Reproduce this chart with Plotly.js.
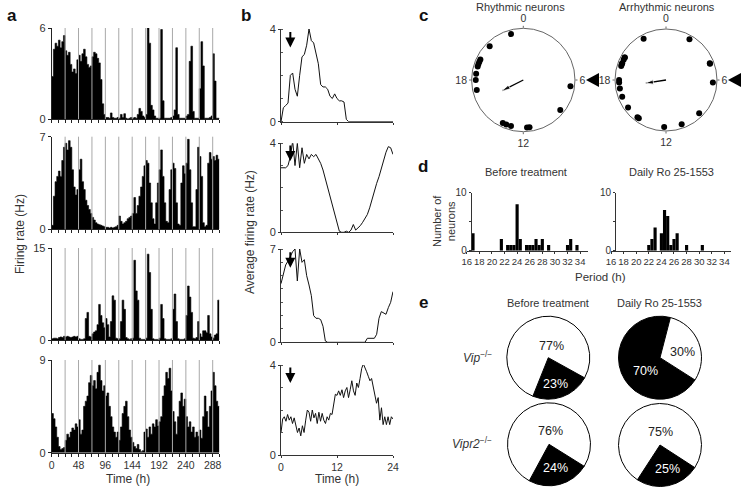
<!DOCTYPE html>
<html><head><meta charset="utf-8">
<script src="https://cdn.plot.ly/plotly-3.0.1.min.js"></script>
<style>html,body{margin:0;padding:0;background:#fff}#chart{width:748px;height:491px}</style>
</head><body><div id="chart"></div>
<script>
const W = 748, H = 491;
const px = x => x / W, py = y => 1 - y / H;

// ---------- panel a: firing rate in 3-h bins (0..300 h) ----------
const aBinHours = 3;
const a1Rate = [2.8,4.6,5.0,4.8,5.2,4.7,5.1,5.5,4.5,4.2,
 4.4,3.6,3.1,3.3,3.0,3.9,4.2,3.8,4.3,4.6,
 4.1,3.6,3.4,3.5,4.1,4.4,4.3,4.0,3.7,2.6,
 1.0,0.3,0.1,0.1,0.05,0.4,0.1,0.05,0.05,0.1,
 0.05,0.3,0.1,0.35,0.05,0,0.05,0.1,0.05,0.1,
 0.05,0.3,0.7,0.5,0.2,0.1,0.3,6.0,5.0,0.9,
 0.6,0.2,0.05,0.05,0.05,5.9,1.2,0.05,0.05,0.05,
 0.05,0.1,0.2,0.6,4.7,0.3,0.05,0.05,0.05,0.05,
 0.2,0.3,3.8,4.8,0.5,0.05,0.05,0.05,2.0,5.1,
 3.5,0.05,0.05,0.05,0.1,0.2,4.3,2.5,0.05,0.05];
const a2Rate = [0.3,2.5,3.6,4.0,4.4,4.0,5.2,6.2,6.5,6.0,
 6.7,6.2,4.5,3.2,2.6,3.0,4.5,5.3,3.6,3.0,
 2.2,1.8,1.5,1.2,0.9,0.7,0.5,0.4,0.35,0.3,
 0.25,0.2,0.15,0.15,0.1,0.15,0.1,0.15,0.2,0.3,
 1.0,0.6,0.4,0.5,0.6,0.8,0.9,1.0,1.2,2.4,
 1.2,1.8,2.5,3.2,4.0,4.8,5.2,5.0,3.5,2.0,
 0.8,0.4,2.0,3.5,4.5,6.0,4.0,2.0,0.6,0.5,
 3.0,4.5,5.0,4.6,2.0,0.4,0.3,3.5,4.8,4.2,
 5.0,6.8,4.5,2.0,0.2,0.2,3.0,6.2,5.5,4.0,
 0.5,0.2,0.3,5.0,5.8,5.3,5.5,5.2,5.6,5.3];
const a3Rate = [0.2,0.3,0.3,0.2,0.4,0.5,0.4,0.6,0.5,0.6,
 0.5,0.4,0.5,0.6,0.5,0.6,0.2,0.1,0.1,0.2,
 3.5,4.5,0.6,0.5,1.0,1.3,1.5,2.5,5.8,4.0,
 2.8,2.0,3.5,2.5,0.5,3.0,7.2,6.5,0.3,0.2,
 0.2,3.0,6.5,5.0,0.4,0.2,0.1,0.2,0.3,13.0,
 8.0,6.5,0.3,0.1,0.1,0.1,0.3,14.0,11.0,5.0,
 0.2,0.1,0.1,0.1,0.3,5.8,3.5,0.2,0.1,0.1,
 0.1,0.2,5.0,7.5,3.0,0.2,0.1,0.1,0.1,0.2,
 4.0,8.8,7.0,4.5,0.3,0.2,0.4,3.0,1.0,0.5,
 1.5,1.5,1.2,4.0,1.0,0.5,0.3,0.8,1.0,6.5];
const a4Rate = [3.8,3.3,2.5,1.5,0.6,0.3,0.4,0.5,1.2,1.8,
 1.5,2.0,2.4,2.2,2.8,2.5,3.2,1.8,2.2,4.5,
 5.0,5.5,6.8,7.5,6.5,7.0,6.2,7.8,8.5,7.0,
 6.0,6.5,5.5,5.8,4.5,3.5,2.5,2.0,1.5,2.0,
 1.2,2.5,3.8,4.5,5.0,3.5,2.2,1.5,1.0,0.6,
 0.4,0.8,0.3,0.1,0.2,2.0,2.3,1.5,2.5,1.8,
 2.8,2.5,3.2,2.6,3.0,3.5,5.5,6.5,7.8,7.2,
 8.2,6.0,4.0,3.0,1.8,3.5,5.0,5.8,4.5,5.2,
 3.5,2.5,3.0,2.0,2.5,1.5,2.0,1.6,2.2,1.4,
 3.5,5.5,4.0,2.5,4.5,6.0,7.8,6.5,5.0,4.5];
const aMax = [6, 7, 15, 9];
const drugTimes = [123, 147, 171, 195, 219, 243];
const dayLines = [24,48,72,96,120,144,168,192,216,240,264,288];
const aTickLabels = ['0','48','96','144','192','240','288'];

// ---------- panel b: average firing rate over 24 h ----------
const bStep = 0.5;
const b1Rate = [0,0.6,0.7,0.8,2.0,2.1,1.4,1.1,2.0,2.8,
 2.9,3.3,4.0,3.5,3.4,3.0,2.5,1.6,1.5,1.5,
 1.4,1.1,1.0,1.2,1.0,0.9,0.9,0.85,0.1,
 0,0,0,0,0,0,0,0,0,0,0,0,0,0,0,0,0,0,0,0];
const b2Rate = [2.9,2.9,2.9,3.0,3.4,4.1,3.0,4.0,2.9,3.8,
 3.1,3.5,3.3,3.5,3.4,3.5,3.3,3.1,2.8,2.4,
 2.0,1.6,1.2,0.8,0.4,0.05,0,0,0.05,0,
 0.1,0.35,0.1,0.2,0.3,0.45,0.6,0.8,1.1,1.5,
 1.9,2.2,2.5,2.9,3.3,3.6,3.85,3.8,3.5];
const b3Rate = [4.4,5.0,5.8,6.1,6.5,6.8,7.0,4.6,7.0,6.0,
 6.2,5.0,4.3,3.5,2.0,1.8,1.8,1.7,1.2,0.1,
 0,0,0,0,0,0,0,0,0,0,0,0,0,0,0,0,0,
 0.3,0.3,0.3,0.3,0.6,1.8,2.3,2.2,2.1,2.6,3.0,3.8];
// b4 sampled at 24/68 h
const b4Rate = [1.0,1.6,1.7,1.5,1.8,1.55,1.7,1.4,1.65,1.3,
 1.0,1.2,0.85,1.3,1.0,1.55,2.0,1.9,1.5,2.0,
 1.65,1.85,1.4,1.9,1.5,1.85,1.55,1.4,1.7,1.55,
 1.85,1.8,2.2,2.7,2.65,2.85,2.65,2.9,2.55,2.85,
 3.0,2.55,2.9,3.3,2.85,2.65,3.2,3.0,3.4,3.85,
 4.05,3.9,3.7,3.5,3.3,3.4,3.05,2.7,2.3,2.55,
 1.55,2.1,1.35,1.7,1.35,1.7,1.35,1.7,1.6];
const bSteps = [0.5, 0.5, 0.5, 24 / 68];
const bMax = [4, 4, 7, 4];
const bArrowTime = 2;
const bTickLabels = ['0','12','24'];

// ---------- panel c: phases (h) ----------
const rhythmicPhase = [23.0,21.0,19.7,19.5,19.3,19.1,18.5,18.0,17.2,6.5,8.6,13.7,13.4,13.0,11.7,11.5];
const arrhythmicPhase = [22.1,2.0,4.6,4.65,6.2,19.9,19.7,19.9,19.4,19.3,19.15,18.0,17.8,17.3,16.6,15.6,14.5,14.36,12.15,10.7,9.0];
const rhythmicMean = {phase: 16.2, length: 0.45};
const arrhythmicMean = {phase: 17.4, length: 0.4};
const lightsOnPhase = 6;
const phaseTickLabels = ['0','6','12','18'];

// ---------- panel d: period histograms ----------
const periodBefore = [17.0,21.5,22.5,23.0,23.5,24.0,24.5,25.5,26.0,26.5,27.0,27.5,28.0,29.0,32.0,32.5,33.5];
const countBefore  = [3,2,1,1,1,8,2,1,1,1,2,1,2,1,1,2,1];
const periodRo = [22.0,22.5,23.0,24.0,24.5,25.0,25.5,26.0,26.5,28.0,30.5];
const countRo  = [1,2,4,3,7,6,1,2,3,1,1];
const periodTickLabels = ['16','18','20','22','24','26','28','30','32','34'];

// ---------- panel e: percent rhythmic (black) / arrhythmic (white) ----------
const conditions = ['Before treatment','Daily Ro 25-1553'];
const genotypeNames = ['Vip','Vipr2'];
const blackPct = [[23, 70], [24, 25]];
const whitePct = [[77, 30], [76, 75]];

// ================= build =================
const FONT = 'Liberation Sans, Arial, Helvetica, sans-serif';
const TXT = '#333';
const traces = [];
const layout = {
  width: W, height: H, margin: {l:0, r:0, t:0, b:0},
  paper_bgcolor: '#fff', plot_bgcolor: 'rgba(0,0,0,0)',
  showlegend: false, font: {family: FONT, color: TXT, size: 11},
  shapes: [], annotations: []
};
const axName = n => n === 1 ? '' : String(n);
const txt = (x, y, text, opts = {}) => layout.annotations.push(Object.assign({xref:'paper', yref:'paper',
  x:px(x), y:py(y), text, showarrow:false, xanchor:'center', yanchor:'middle', font:{size:11, color:TXT}}, opts));

// panel a
const aSeries = [a1Rate, a2Rate, a3Rate, a4Rate];
const aYpx = [[119,28],[229.3,136.7],[340,248],[452.7,360]];
aSeries.forEach((vals, k) => {
  const n = k + 1, s = axName(n);
  const xs = vals.map((v, i) => i * aBinHours); xs.push(vals.length * aBinHours);
  const ys = vals.slice(); ys.push(vals[vals.length - 1]);
  traces.push({type:'scatter', x: xs, y: ys, xaxis:'x'+s, yaxis:'y'+s, mode:'lines',
    line:{color:'#000', width:0.6, shape:'hv'}, fill:'tozeroy', fillcolor:'#000', hoverinfo:'skip'});
  traces.push({type:'scatter', x: drugTimes, y: drugTimes.map(() => aMax[k] * 1.08), xaxis:'x'+s, yaxis:'y'+s,
    mode:'markers', marker:{symbol:'triangle-down', size:6, color:'#000'}, cliponaxis:false, hoverinfo:'skip'});
  layout['xaxis'+s] = {domain:[px(51.7), px(219.4)], range:[0, 300], anchor:'y'+s,
    showline:true, linecolor:'#222', linewidth:1, ticks:'outside', ticklen:3, tickcolor:'#222',
    tickmode:'array', tickvals: aTickLabels.map(Number), ticktext: aTickLabels, tickangle:0,
    showticklabels: k === 3, showgrid:false, zeroline:false, tickfont:{size:10.5, color:TXT},
    minor:{tickmode:'linear', tick0:0, dtick:12, ticks:'outside', ticklen:3, tickcolor:'#222', showgrid:false}};
  layout['yaxis'+s] = {domain:[py(aYpx[k][0]), py(aYpx[k][1])], range:[0, aMax[k]], anchor:'x'+s,
    showline:true, linecolor:'#222', linewidth:1, ticks:'outside', ticklen:3, tickcolor:'#222',
    tickmode:'array', tickvals:[0, aMax[k]], showgrid:false, zeroline:false, tickfont:{size:11, color:TXT}};
  dayLines.forEach(t => layout.shapes.push({type:'line', xref:'x'+s, yref:'y'+s+' domain', x0:t, x1:t, y0:0, y1:1,
    line:{color:'#a8a8a8', width:1}, layer:'above'}));
});

// panel b
const bSeries = [b1Rate, b2Rate, b3Rate, b4Rate];
const bYpx = [[121.7,29],[232.3,143.3],[342.3,249],[455,365]];
bSeries.forEach((vals, k) => {
  const n = k + 5, s = axName(n);
  traces.push({type:'scatter', x: vals.map((v, i) => i * bSteps[k]), y: vals, xaxis:'x'+s, yaxis:'y'+s,
    mode:'lines', line:{color:'#111', width:1}, cliponaxis:false, hoverinfo:'skip'});
  layout['xaxis'+s] = {domain:[px(281), px(393)], range:[0, 24], anchor:'y'+s,
    showline:true, linecolor:'#333', linewidth:1, ticks:'outside', ticklen:2, tickcolor:'#333',
    tickmode:'array', tickvals: bTickLabels.map(Number), ticktext: bTickLabels, tickangle:0,
    showticklabels: k === 3, showgrid:false, zeroline:false, tickfont:{size:10.5, color:TXT}};
  layout['yaxis'+s] = {domain:[py(bYpx[k][0]), py(bYpx[k][1])], range:[0, bMax[k]], anchor:'x'+s,
    showline:true, linecolor:'#333', linewidth:1, ticks:'outside', ticklen:2, tickcolor:'#333',
    tickmode:'array', tickvals:[0, bMax[k]], showgrid:false, zeroline:false, tickfont:{size:11, color:TXT},
    minor:{tickmode:'linear', tick0:0, dtick:1, ticks:'inside', ticklen:2, tickcolor:'#555'}};
  layout.annotations.push({xref:'x'+s, yref:'y'+s, x:bArrowTime, y:bMax[k]*0.8, ax:0, ay:-17,
    showarrow:true, arrowhead:2, arrowsize:1, arrowwidth:2, arrowcolor:'#000', text:''});
});

// panel c
const polarDefs = [
  {sp:'polar', phases:rhythmicPhase, mean:rhythmicMean, x:[471.6, 575], y:[28.3, 131.7]},
  {sp:'polar2', phases:arrhythmicPhase, mean:arrhythmicMean, x:[615, 717], y:[28.3, 131.7]}
];
polarDefs.forEach(d => {
  layout[d.sp] = {
    domain:{x:[px(d.x[0]), px(d.x[1])], y:[py(d.y[1]), py(d.y[0])]}, bgcolor:'#fff',
    radialaxis:{visible:false, range:[0, 1]},
    angularaxis:{direction:'clockwise', rotation:90, showgrid:false, showline:true, linecolor:'#666', linewidth:1,
      ticks:'outside', ticklen:2, tickcolor:'#666', tickmode:'array',
      tickvals: phaseTickLabels.map(v => Number(v) * 15), ticktext: phaseTickLabels,
      tickfont:{size:10.5, color:TXT}}
  };
  traces.push({type:'scatterpolar', subplot:d.sp, r: d.phases.map(() => 0.92), theta: d.phases.map(h => h * 15),
    mode:'markers', marker:{size:6, color:'#000'}, hoverinfo:'skip'});
  const ang = d.mean.phase * 15;
  traces.push({type:'scatterpolar', subplot:d.sp, r:[0, d.mean.length], theta:[ang, ang], mode:'lines+markers',
    line:{color:'#000', width:1.3}, marker:{symbol:['circle','arrow'], size:[0, 8], angle:[0, ang], color:'#000'},
    hoverinfo:'skip'});
  // lights-on marker (black triangle beside the "6" label)
  const cx = (d.x[0] + d.x[1]) / 2, cy = (d.y[0] + d.y[1]) / 2, rr = (d.x[1] - d.x[0]) / 2;
  const a = lightsOnPhase / 24 * 2 * Math.PI;
  const tipX = cx + Math.sin(a) * (rr + 11), tipY = cy - Math.cos(a) * (rr + 11);
  layout.shapes.push({type:'path', xref:'paper', yref:'paper', fillcolor:'#000', line:{width:0},
    path:`M ${px(tipX)},${py(tipY)} L ${px(tipX + 13)},${py(tipY - 7)} L ${px(tipX + 13)},${py(tipY + 7)} Z`});
});

// panel d
const histAxes = [
  {n:9, periods:periodBefore, counts:countBefore, dom:[466.7, 587.7], range:[16, 35.2], yPos:470.7},
  {n:10, periods:periodRo, counts:countRo, dom:[611, 731], range:[16, 35.05], yPos:615}
];
histAxes.forEach(h => {
  const s = axName(h.n);
  traces.push({type:'bar', x:h.periods, y:h.counts, width:0.5, xaxis:'x'+s, yaxis:'y'+s,
    marker:{color:'#000', line:{width:0}}, hoverinfo:'skip'});
  layout['xaxis'+s] = {domain:[px(h.dom[0]), px(h.dom[1])], range:h.range, anchor:'y'+s,
    showline:true, linecolor:'#333', linewidth:1, ticks:'outside', ticklen:2, tickcolor:'#333',
    tickmode:'array', tickvals: periodTickLabels.map(Number), ticktext: periodTickLabels, tickangle:0,
    showgrid:false, zeroline:false, tickfont:{size:9.5, color:TXT}};
  layout['yaxis'+s] = {domain:[py(250.7), py(192.7)], range:[0, 10], anchor:'free', position:px(h.yPos),
    showline:true, linecolor:'#333', linewidth:1, ticks:'outside', ticklen:2, tickcolor:'#333',
    tickmode:'array', tickvals:[0, 5, 10], ticktext:['0', '', '10'],
    showgrid:false, zeroline:false, tickfont:{size:10, color:TXT}};
});

// panel e
const pieCenters = [[[548.3, 357.7], [660, 357.7]], [[549, 444.3], [660, 445]]];
const pieR = 41.5;
const pieRot = [[119, 122.5], [122, 123]];
const whiteLabelOff = [[[3, -12], [22, -6]], [[1, -13], [0, -13.5]]];
const blackLabelOff = [[[7, 26], [-15, 13]], [[6, 24], [7, 24]]];
for (let g = 0; g < 2; g++) for (let c = 0; c < 2; c++) {
  const [cx, cy] = pieCenters[g][c];
  traces.push({type:'pie', values:[blackPct[g][c], whitePct[g][c]], sort:false, direction:'clockwise',
    rotation: pieRot[g][c], textinfo:'none', hoverinfo:'skip',
    marker:{colors:['#000', '#fff'], line:{color:'#000', width:1}},
    domain:{x:[px(cx - pieR), px(cx + pieR)], y:[py(cy + pieR), py(cy - pieR)]}});
  txt(cx + whiteLabelOff[g][c][0], cy + whiteLabelOff[g][c][1], whitePct[g][c] + '%', {font:{size:12.5, color:'#222'}});
  txt(cx + blackLabelOff[g][c][0], cy + blackLabelOff[g][c][1], blackPct[g][c] + '%', {font:{size:12.5, color:'#fff'}});
}

// text annotations
[['a', 12, 15], ['b', 246, 15], ['c', 423, 15], ['d', 423, 167], ['e', 423, 302]].forEach(([l, x, y]) =>
  txt(x, y, '<b>' + l + '</b>', {font:{size:17, color:'#111'}}));
txt(20, 234, 'Firing rate (Hz)', {textangle:-90, font:{size:12, color:TXT}});
txt(250, 232, 'Average firing rate (Hz)', {textangle:-90, font:{size:12, color:TXT}});
txt(128, 479, 'Time (h)', {font:{size:12, color:TXT}});
txt(337, 479, 'Time (h)', {font:{size:12, color:TXT}});
txt(520, 7, 'Rhythmic neurons');
txt(667, 7, 'Arrhythmic neurons');
txt(526, 172, conditions[0]);
txt(671, 172, conditions[1]);
txt(444, 221, 'Number of<br>neurons', {textangle:-90});
txt(600, 277, 'Period (h)', {font:{size:11.5, color:TXT}});
txt(548, 303, conditions[0]);
txt(659, 303, conditions[1]);
txt(494, 357, '<i>' + genotypeNames[0] + '</i><sup>−/−</sup>', {xanchor:'right', font:{size:12, color:TXT}});
txt(494, 443, '<i>' + genotypeNames[1] + '</i><sup>−/−</sup>', {xanchor:'right', font:{size:12, color:TXT}});

Plotly.newPlot('chart', traces, layout, {staticPlot:true, displayModeBar:false});
</script></body></html>
